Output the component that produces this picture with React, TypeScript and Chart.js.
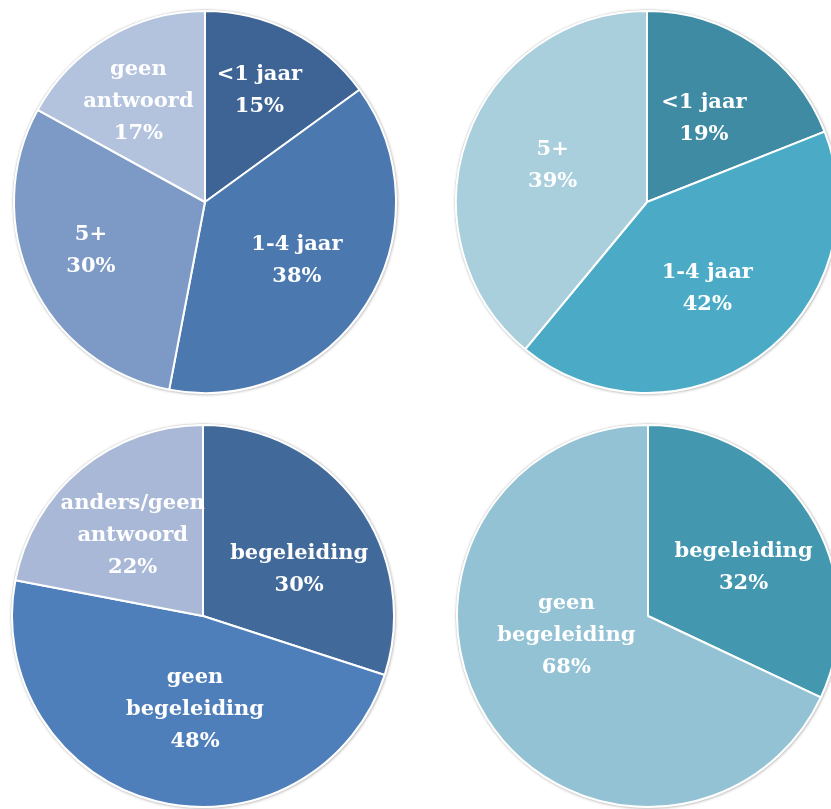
import React, { useEffect, useRef } from "react";
import { Chart, registerables } from "chart.js";

Chart.register(...registerables);

// ---- Data ----
const tlLabels = ["<1 jaar", "1-4 jaar", "5+", "geen\nantwoord"];
const tlValues = [15, 38, 30, 17];
const tlColors = ["#3D6494", "#4A78AF", "#7D9AC6", "#B3C3DE"];

const trLabels = ["<1 jaar", "1-4 jaar", "5+"];
const trValues = [19, 42, 39];
const trColors = ["#3E8BA3", "#4BABC6", "#A9CEDC"];

const blLabels = ["begeleiding", "geen\nbegeleiding", "anders/geen\nantwoord"];
const blValues = [30, 48, 22];
const blColors = ["#41699A", "#4E7FBA", "#A9B8D7"];

const brLabels = ["begeleiding", "geen\nbegeleiding"];
const brValues = [32, 68];
const brColors = ["#4397AE", "#93C2D4"];

// ---- Layout (label placement: [angle nudge in degrees, radius fraction]) ----
const tlLabelAdjust = [[-1, 0.65], [0, 0.57], [2, 0.65], [-3, 0.63]];
const trLabelAdjust = [[0, 0.53], [1, 0.55], [1.5, 0.53]];
const blLabelAdjust = [[10, 0.56], [-9.5, 0.49], [-1.5, 0.56]];
const brLabelAdjust = [[5.7, 0.56], [18.7, 0.44]];

const RADIUS = 191;
const PAD = 4;
const BORDER = 2;
const SIZE = 2 * RADIUS + BORDER + 2 * PAD;
const FONT_FAMILY = "'DejaVu Serif', serif";
const FONT_SIZE = 21;
const LINE_HEIGHT = 32;

const outlinePlugin = {
  id: "outline",
  beforeDatasetsDraw(chart: any) {
    const arc = chart.getDatasetMeta(0).data[0];
    if (!arc) return;
    const { x, y, outerRadius } = arc;
    const ctx = chart.ctx;
    ctx.save();
    ctx.beginPath();
    ctx.arc(x, y, outerRadius + 1, 0, Math.PI * 2);
    ctx.shadowColor = "rgba(0,0,0,0.35)";
    ctx.shadowBlur = 3;
    ctx.shadowOffsetX = 0.5;
    ctx.shadowOffsetY = 0.5;
    ctx.fillStyle = "#ffffff";
    ctx.fill();
    ctx.shadowColor = "transparent";
    ctx.lineWidth = 1;
    ctx.strokeStyle = "#D6D6D6";
    ctx.stroke();
    ctx.restore();
  },
};

const labelPlugin = {
  id: "sliceLabels",
  afterDatasetsDraw(chart: any, _args: any, opts: any) {
    const meta = chart.getDatasetMeta(0);
    const ds = chart.data.datasets[0];
    const labels = chart.data.labels as string[];
    const adjust = opts.adjust as number[][];
    const ctx = chart.ctx;
    ctx.save();
    ctx.fillStyle = "#ffffff";
    ctx.textAlign = "center";
    ctx.textBaseline = "middle";
    ctx.font = `bold ${FONT_SIZE}px ${FONT_FAMILY}`;
    meta.data.forEach((arc: any, i: number) => {
      const [dAng, frac] = adjust[i] || [0, 0.55];
      const mid = (arc.startAngle + arc.endAngle) / 2 + (dAng * Math.PI) / 180;
      const dist = arc.outerRadius * frac;
      const cx = arc.x + Math.cos(mid) * dist;
      const cy = arc.y + Math.sin(mid) * dist;
      const lines = [...String(labels[i]).split("\n"), `${ds.data[i]}%`];
      const top = cy - ((lines.length - 1) * LINE_HEIGHT) / 2;
      lines.forEach((ln, k) => ctx.fillText(ln, cx, top + k * LINE_HEIGHT));
    });
    ctx.restore();
  },
};

type PieProps = {
  labels: string[];
  values: number[];
  colors: string[];
  adjust: number[][];
  cx: number;
  cy: number;
};

function Pie({ labels, values, colors, adjust, cx, cy }: PieProps) {
  const ref = useRef<HTMLCanvasElement>(null);
  useEffect(() => {
    if (!ref.current) return;
    const chart = new Chart(ref.current, {
      type: "pie",
      data: {
        labels,
        datasets: [
          {
            data: values,
            backgroundColor: colors,
            borderColor: "#ffffff",
            borderWidth: BORDER,
          },
        ],
      },
      options: {
        responsive: false,
        animation: false,
        events: [],
        layout: { padding: PAD },
        plugins: {
          legend: { display: false },
          tooltip: { enabled: false },
          sliceLabels: { adjust },
        } as any,
      },
      plugins: [outlinePlugin, labelPlugin],
    });
    return () => chart.destroy();
  }, []);
  return (
    <canvas
      ref={ref}
      width={SIZE}
      height={SIZE}
      style={{
        position: "absolute",
        left: cx - SIZE / 2,
        top: cy - SIZE / 2,
        width: SIZE,
        height: SIZE,
      }}
    />
  );
}

export default function App() {
  return (
    <div
      style={{
        position: "fixed",
        left: 0,
        top: 0,
        width: 831,
        height: 809,
        overflow: "hidden",
        background: "#ffffff",
      }}
    >
      <Pie labels={tlLabels} values={tlValues} colors={tlColors} adjust={tlLabelAdjust} cx={205} cy={202} />
      <Pie labels={trLabels} values={trValues} colors={trColors} adjust={trLabelAdjust} cx={647} cy={202} />
      <Pie labels={blLabels} values={blValues} colors={blColors} adjust={blLabelAdjust} cx={203} cy={616} />
      <Pie labels={brLabels} values={brValues} colors={brColors} adjust={brLabelAdjust} cx={648} cy={616} />
    </div>
  );
}
